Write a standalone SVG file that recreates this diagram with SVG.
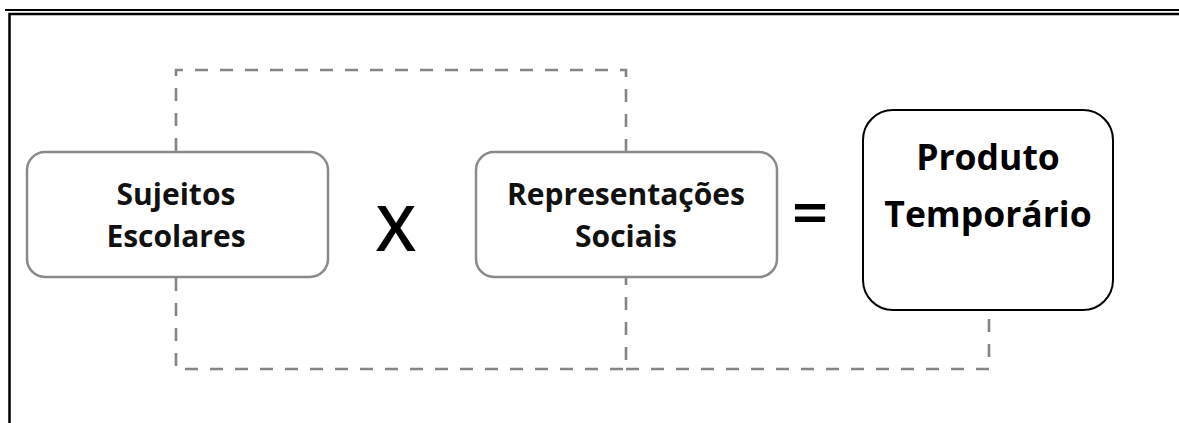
<svg xmlns="http://www.w3.org/2000/svg" width="1179" height="423" viewBox="0 0 1179 423">
<style>
.frame{fill:none;stroke:#000}
.box{fill:#fff;stroke:#8a8a8a;stroke-width:2.5}
.box3{fill:#fff;stroke:#000;stroke-width:2}
.dash{fill:none;stroke:#858585;stroke-width:2.6;stroke-dasharray:13 12}
.lbl{font-family:"Open Sans","Liberation Sans",sans-serif;font-weight:700;font-size:30px;fill:#111;text-anchor:middle}
.lbl3{font-family:"Open Sans","Liberation Sans",sans-serif;font-weight:700;font-size:35.5px;fill:#000;text-anchor:middle}
.op{font-family:"Open Sans","Liberation Sans",sans-serif;font-size:64px;font-weight:600;fill:#000;text-anchor:middle}
</style>
<rect width="1179" height="423" fill="#fff"/>
<g id="frame">
<line class="frame" x1="5" y1="10" x2="1179" y2="10" stroke-width="2"/>
<path class="frame" d="M9.5,423 V14 H1179" stroke-width="2.5"/>
</g>
<g id="connectors">
<path class="dash" d="M176,151 V70 H626 V151"/>
<path class="dash" d="M176,278 V369 H626 V278"/>
<path class="dash" d="M626,369 H989 V311"/>
</g>
<g id="node-sujeitos">
<rect class="box" x="27" y="152" width="301" height="125" rx="18"/>
<text class="lbl" x="176" y="205">Sujeitos</text>
<text class="lbl" x="176" y="247">Escolares</text>
</g>
<g id="op-x">
<text class="op" x="396" y="251">X</text>
</g>
<g id="node-representacoes">
<rect class="box" x="476" y="152" width="301" height="125" rx="18"/>
<text class="lbl" x="626" y="205">Representações</text>
<text class="lbl" x="626" y="247">Sociais</text>
</g>
<g id="op-eq">
<text class="op" x="810" y="235">=</text>
</g>
<g id="node-produto">
<rect class="box3" x="863" y="110" width="250" height="200" rx="30"/>
<text class="lbl3" x="988" y="170">Produto</text>
<text class="lbl3" x="988" y="227">Temporário</text>
</g>
</svg>
